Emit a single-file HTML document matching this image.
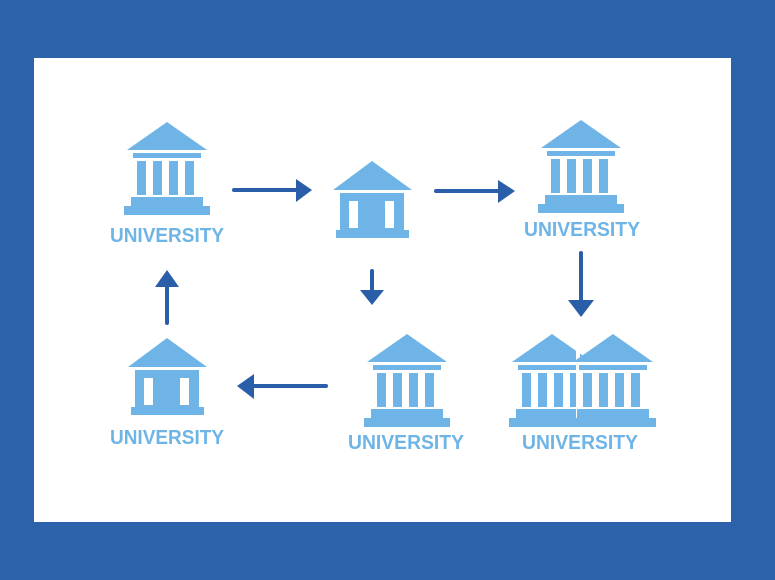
<!DOCTYPE html>
<html><head><meta charset="utf-8"><style>
html,body{margin:0;padding:0;background:#2c62a9;}
svg{display:block}
text{font-family:"Liberation Sans",sans-serif;font-weight:bold;fill:#6fb4e6;font-size:20px}
</style></head><body>
<svg width="775" height="580" viewBox="0 0 775 580">
<defs>
<g id="big" fill="#6fb4e6">
<polygon points="3,28 43,0 83,28"/>
<rect x="9" y="31" width="68" height="5"/>
<rect x="13" y="39" width="9" height="34"/>
<rect x="29" y="39" width="9" height="34"/>
<rect x="45" y="39" width="9" height="34"/>
<rect x="61" y="39" width="9" height="34"/>
<rect x="7" y="75" width="72" height="9"/>
<rect x="0" y="84" width="86" height="9"/>
</g>
<g id="small">
<polygon points="0,30 39,1 79,30" fill="#6fb4e6"/>
<rect x="7" y="33" width="64" height="37" fill="#6fb4e6"/>
<rect x="16" y="41" width="9" height="27" fill="#fff"/>
<rect x="52" y="41" width="9" height="27" fill="#fff"/>
<rect x="3" y="70" width="73" height="8" fill="#6fb4e6"/>
</g>
</defs>
<rect x="34" y="58" width="697" height="464" fill="#fff"/>
<use href="#big" x="124" y="122"/>
<use href="#small" x="333" y="160"/>
<use href="#big" x="538" y="120"/>
<use href="#small" x="128" y="337"/>
<use href="#big" x="364" y="334"/>
<use href="#big" x="509" y="334"/>
<rect x="576" y="330" width="4" height="100" fill="#fff"/>
<use href="#big" x="570" y="334"/>
<text x="110" y="242" textLength="114" lengthAdjust="spacingAndGlyphs">UNIVERSITY</text>
<text x="524" y="236" textLength="116" lengthAdjust="spacingAndGlyphs">UNIVERSITY</text>
<text x="110" y="444" textLength="114" lengthAdjust="spacingAndGlyphs">UNIVERSITY</text>
<text x="348" y="449" textLength="116" lengthAdjust="spacingAndGlyphs">UNIVERSITY</text>
<text x="522" y="449" textLength="116" lengthAdjust="spacingAndGlyphs">UNIVERSITY</text>
<g stroke="#2a5ea8" stroke-width="4" stroke-linecap="round" fill="#2a5ea8">
<line x1="234" y1="190" x2="298" y2="190"/>
<line x1="436" y1="191" x2="500" y2="191"/>
<line x1="372" y1="271" x2="372" y2="292"/>
<line x1="581" y1="253" x2="581" y2="302"/>
<line x1="326" y1="386" x2="252" y2="386"/>
<line x1="167" y1="323" x2="167" y2="285"/>
</g>
<g fill="#2a5ea8">
<polygon points="296,179 312,190 296,202"/>
<polygon points="498,180 515,191 498,203"/>
<polygon points="360,290 384,290 372,305"/>
<polygon points="568,300 594,300 581,317"/>
<polygon points="254,374 237,386 254,399"/>
<polygon points="155,287 179,287 167,270"/>
</g>
</svg>
</body></html>
